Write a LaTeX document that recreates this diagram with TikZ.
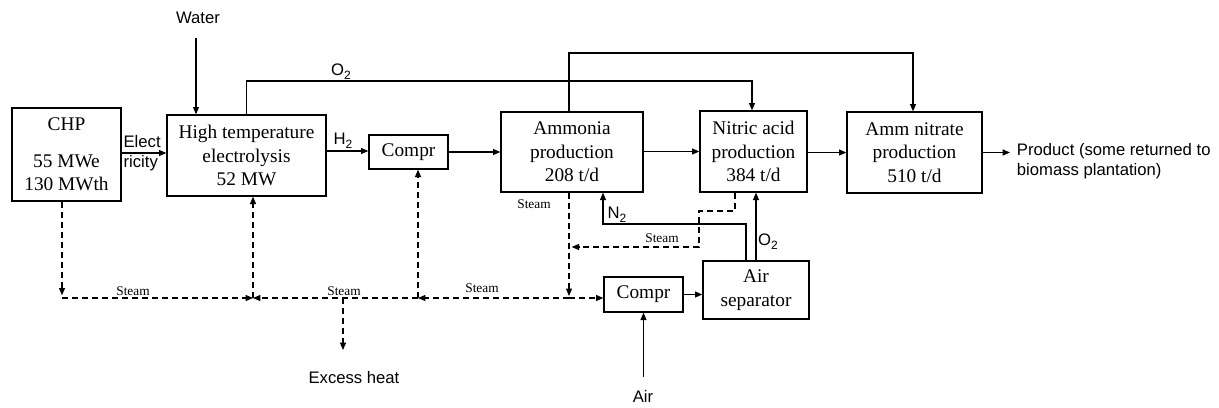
\documentclass[tikz,border=0pt]{standalone}
\usepackage{fontspec}
\setmainfont{Liberation Serif}
\setsansfont{Liberation Sans}
\usetikzlibrary{arrows.meta, positioning, calc}
\newcommand{\lowsub}[1]{\raisebox{-0.45ex}{\fontsize{9}{9}\selectfont #1}}

\begin{document}
\begin{tikzpicture}[
    x=0.75pt, y=-0.75pt,
    box/.style={draw, line width=1pt, align=center, inner sep=0pt, font=\fontsize{14.5}{17.5}\selectfont},
    lbl/.style={font=\sffamily\fontsize{12.5}{15}\selectfont, inner sep=1pt},
    steamlbl/.style={font=\fontsize{10}{12}\selectfont, inner sep=1pt},
    arrow/.style={-{Triangle[length=5.5pt, width=4.5pt]}, line width=0.8pt},
    steamarrow/.style={arrow, dash pattern=on 4.5pt off 3pt}
]
\useasboundingbox (0,0) rectangle (1219,407);

% process units
\node[box, minimum width=81.75pt, minimum height=69.75pt] (chp) at (66.5,154.5) {CHP\\[10pt]55 MWe\\130 MWth};
\node[box, minimum width=119.25pt, minimum height=60.75pt] (hte) at (246.5,155.5) {High temperature\\electrolysis\hspace*{1.4em}\\52 MW};
\node[box, minimum width=59.25pt, minimum height=25.5pt] (compra) at (408.5,152) {Compr};
\node[box, minimum width=106.5pt, minimum height=60pt] (ammonia) at (572,152) {Ammonia\\production\\208 t/d};
\node[box, minimum width=80.25pt, minimum height=60.75pt] (nitric) at (753.5,151.5) {Nitric acid\\production\\384 t/d};
\node[box, minimum width=101.25pt, minimum height=60.75pt] (ammnit) at (914.5,152.5) {Amm nitrate\\production\\510 t/d};
\node[box, minimum width=59.25pt, minimum height=26.25pt] (comprb) at (643.5,294.5) {Compr};
\node[box, minimum width=79.5pt, minimum height=43.5pt, font=\fontsize{14.5}{18}\selectfont] (airsep) at (756,290) {Air\\separator};

% inputs and outputs
\node[lbl] (water) at (198,18) {Water};
\node[lbl] (air) at (643,396) {Air};
\node[lbl] (exheat) at (354,378) {Excess heat};
\node[lbl, anchor=west, align=left, inner xsep=5pt] (product) at (1010,161) {Product (some returned to\\biomass plantation)};

% helper points
\coordinate (win) at (196,38);
\coordinate (o2top) at (752,81);
\coordinate (nh3top) at (913,53);
\coordinate (airin) at (647,377);
\coordinate (n2a) at (746,224);
\coordinate (n2b) at (603,224);
\coordinate (jchp) at (62,298);
\coordinate (jhte) at (253,298);
\coordinate (jexc) at (343,298);
\coordinate (jcpr) at (418,298);
\coordinate (jnh3) at (569,298);
\coordinate (exc) at (343,350);
\coordinate (sa) at (735,211);
\coordinate (sb) at (699,247);

% main flows
\draw[arrow] (win) -- (win |- hte.north);
\draw[arrow] (chp.east |- 0,153) -- (hte.west |- 0,153);
\node[lbl, anchor=west, align=left] (elec) at (122,153) {Elect\\ricity};
\draw[arrow] (hte.east |- 0,151) -- (compra.west |- 0,151);
\node[lbl] (h2) at (343,141) {H\lowsub{2}};
\draw[arrow] (compra.east) -- (compra.east -| ammonia.west);
\draw[arrow] (ammonia.east |- nitric) -- (nitric.west);
\draw[arrow] (nitric.east |- ammnit) -- (ammnit.west);
\draw[arrow] (ammnit.east) -- (ammnit.east -| product.west);
\draw[arrow] (hte.north) |- (o2top) -- (o2top |- nitric.north);
\node[lbl] (o2a) at (341,72) {O\lowsub{2}};
\draw[arrow] (ammonia.north -| 569,0) |- (nh3top) -- (nh3top |- ammnit.north);
\draw[arrow] (comprb.south |- airin) -- (comprb.south);
\draw[arrow] (comprb.east) -- (comprb.east -| airsep.west);
\draw[arrow] (airsep.north) -- (airsep.north |- nitric.south);
\node[lbl] (o2b) at (768,242) {O\lowsub{2}};
\draw[arrow] (n2a |- airsep.north) -- (n2a) -- (n2b) -- (n2b |- ammonia.south);
\node[lbl] (n2) at (617,215) {N\lowsub{2}};

% steam network
\draw[steamarrow, shorten >=2pt] (chp.south -| jchp) -- (jchp);
\draw[steamarrow] (jchp) -- (jhte);
\draw[steamarrow] (jcpr) -- (jhte);
\draw[steamarrow] (jnh3) -- (jcpr);
\draw[steamarrow] (jnh3) -- (jnh3 -| comprb.west);
\draw[steamarrow] (jhte) -- (jhte |- hte.south);
\draw[steamarrow] (jcpr) -- (jcpr |- compra.south);
\draw[steamarrow] (jexc) -- (exc);
\draw[steamarrow, shorten >=1.5pt] (jnh3 |- ammonia.south) -- (jnh3);
\draw[steamarrow, shorten >=2pt] (sa |- nitric.south) -- (sa) -| (sb) -- (sb -| jnh3);
\node[steamlbl] (st1) at (133,291) {Steam};
\node[steamlbl] (st2) at (344,291) {Steam};
\node[steamlbl] (st3) at (482,288) {Steam};
\node[steamlbl] (st4) at (662,238) {Steam};
\node[steamlbl] (st5) at (534,204) {Steam};

\end{tikzpicture}
\end{document}
